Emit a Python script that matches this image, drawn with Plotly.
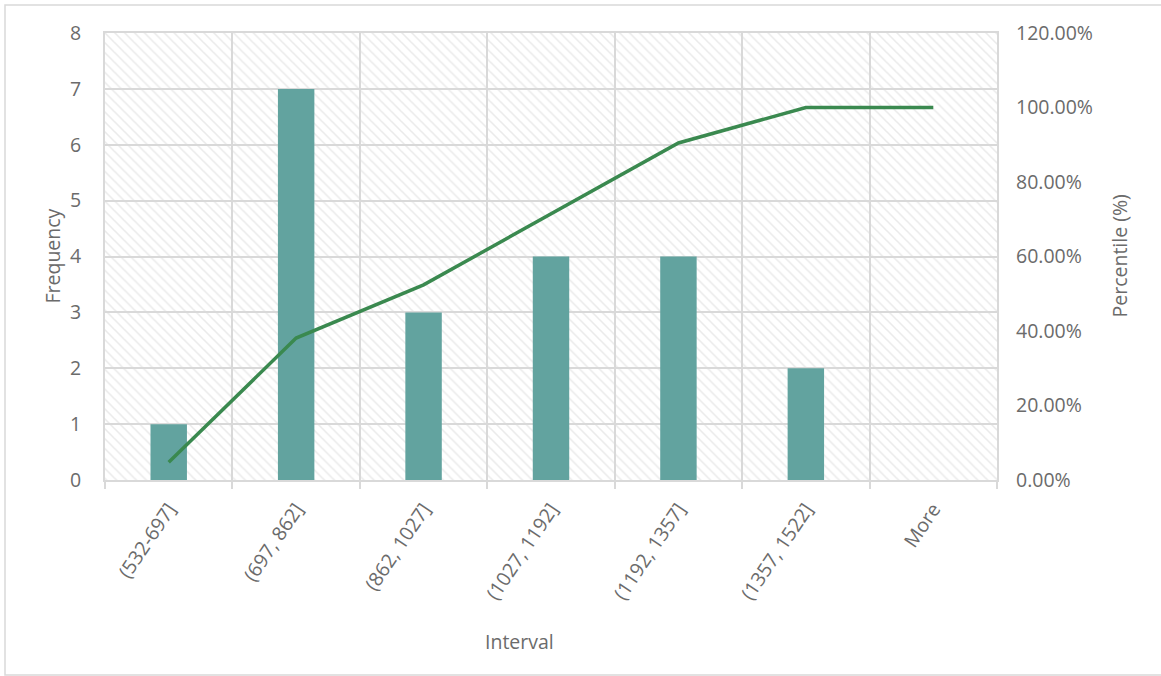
import plotly.graph_objects as go

# Histogram bins, frequency counts and cumulative percentile
intervals = ["(532-697]", "(697, 862]", "(862, 1027]", "(1027, 1192]",
             "(1192, 1357]", "(1357, 1522]", "More"]
frequency = [1, 7, 3, 4, 4, 2, 0]
cumulative_pct = [0.0476, 0.3810, 0.5238, 0.7143, 0.9048, 1.0, 1.0]

FONT = "Open Sans"
TEXT_GRAY = "#6B6B6B"
GRID_GRAY = "#D9D9D9"
BAR_COLOR = "#62A39F"
LINE_COLOR = "#3A894F"
FONT_SIZE = 19.5

W, H = 1161, 676
ML, MR, MT, MB = 105, 164, 33, 196
PW = W - ML - MR
PH = H - MT - MB


def px_x(p):
    return (p - ML) / PW


def px_y(p):
    return (H - MB - p) / PH


fig = go.Figure()

# Hatched plot-area background (own subplot, drawn beneath the chart's grid)
fig.add_trace(go.Scatter(
    x=[0, 1, 1, 0, 0], y=[0, 0, 1, 1, 0],
    mode="lines", line=dict(width=0, color="rgba(0,0,0,0)"),
    fill="toself", fillcolor="white",
    fillpattern=dict(shape="\\", fgcolor="#D6D6D6", bgcolor="white",
                     size=7, solidity=0.22),
    hoverinfo="skip", showlegend=False,
    xaxis="x", yaxis="y",
))

# Frequency bars
fig.add_trace(go.Bar(
    x=intervals, y=frequency, marker_color=BAR_COLOR,
    marker_line_width=0, width=0.286,
    xaxis="x2", yaxis="y2", showlegend=False,
))

# Cumulative percentile line
fig.add_trace(go.Scatter(
    x=intervals, y=cumulative_pct, mode="lines",
    line=dict(color=LINE_COLOR, width=3.5),
    xaxis="x2", yaxis="y3", showlegend=False,
))

tickfont = dict(family=FONT, size=FONT_SIZE, color=TEXT_GRAY)
titlefont = dict(family=FONT, size=FONT_SIZE, color=TEXT_GRAY)

fig.update_layout(
    width=W, height=H,
    margin=dict(l=ML, r=MR, t=MT, b=MB),
    paper_bgcolor="white",
    plot_bgcolor="rgba(0,0,0,0)",
    font=dict(family=FONT, color=TEXT_GRAY),
    xaxis=dict(domain=[0, 1], range=[0, 1], visible=False, fixedrange=True),
    yaxis=dict(domain=[0, 1], range=[0, 1], visible=False, fixedrange=True),
    xaxis2=dict(
        domain=[0, 1], anchor="y2", type="category",
        tickson="boundaries", ticks="outside", ticklen=7,
        tickcolor=GRID_GRAY, tickwidth=2,
        showgrid=True, gridcolor=GRID_GRAY, gridwidth=2,
        showline=True, linecolor=GRID_GRAY, linewidth=2, mirror=True,
        tickangle=-56, tickfont=tickfont, ticklabelstandoff=8,
    ),
    yaxis2=dict(
        domain=[0, 1], anchor="x2", range=[0, 8], dtick=1,
        showgrid=True, gridcolor=GRID_GRAY, gridwidth=2,
        showline=True, linecolor=GRID_GRAY, linewidth=2, mirror=True,
        zeroline=False, ticks="", tickfont=tickfont,
        ticklabelstandoff=18,
    ),
    yaxis3=dict(
        overlaying="y2", side="right", anchor="x2",
        range=[0, 1.2], dtick=0.2, tickformat=".2%",
        showgrid=False, zeroline=False, showline=False, ticks="",
        tickfont=tickfont, ticklabelstandoff=18,
    ),
    annotations=[
        dict(text="Frequency", xref="paper", yref="paper",
             x=px_x(52), y=0.5, textangle=-90, showarrow=False,
             xanchor="center", yanchor="middle", font=titlefont),
        dict(text="Percentile (%)", xref="paper", yref="paper",
             x=px_x(1119), y=0.5, textangle=-90, showarrow=False,
             xanchor="center", yanchor="middle", font=titlefont),
        dict(text="Interval", xref="paper", yref="paper",
             x=px_x(519), y=px_y(641), showarrow=False,
             xanchor="center", yanchor="middle", font=titlefont),
    ],
    shapes=[
        dict(type="rect", xref="paper", yref="paper",
             x0=px_x(5), x1=px_x(1166), y0=px_y(675), y1=px_y(5),
             line=dict(color=GRID_GRAY, width=1.5), layer="below"),
    ],
)

fig.write_html("out.html")
